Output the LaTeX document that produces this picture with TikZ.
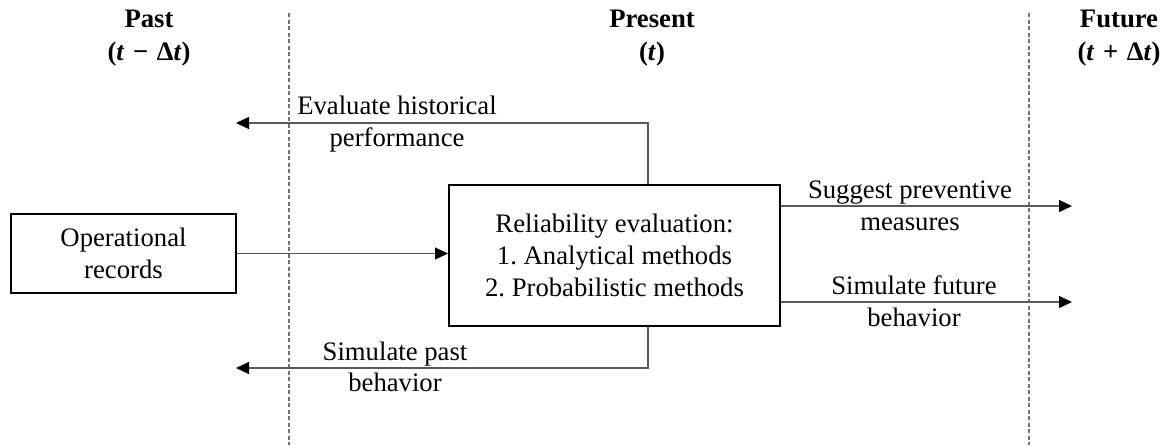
\documentclass[tikz,border=0pt]{standalone}
\usepackage{fontspec}
\setmainfont{Liberation Serif}
\usetikzlibrary{arrows.meta}
\frenchspacing

\begin{document}
\begin{tikzpicture}[x=1pt,y=-1pt,
  every node/.style={font=\fontsize{26.7}{31.7}\selectfont, inner sep=0pt, align=center},
  heading/.style={font=\fontsize{26.7}{33}\selectfont\bfseries},
  blockbox/.style={draw=black, line width=2pt},
  flow/.style={draw=black!65, line width=1.1pt,
    -{Triangle[length=13pt,width=12pt,color=black]}},
  era/.style={draw=black!55, line width=1.1pt, dash pattern=on 4pt off 2.5pt},
  lbl/.style={}]
  \useasboundingbox (0,0) rectangle (1175,445);

  % time boundaries
  \coordinate (d1t) at (289,13);
  \coordinate (d1b) at (289,445);
  \coordinate (d2t) at (1029,13);
  \coordinate (d2b) at (1029,445);
  \draw[era] (d1t) -- (d1b);
  \draw[era] (d2t) -- (d2b);

  % headings
  \node[heading] (hpast) at (149,38)
    {Past\\(\textit{t}\hspace{0.32em}−\hspace{0.32em}Δ\textit{t})};
  \node[heading] (hpres) at (652,38) {Present\\(\textit{t})};
  \node[heading] (hfut)  at (1119,38)
    {Future\\(\textit{t}\hspace{0.32em}+\hspace{0.32em}Δ\textit{t})};

  % blocks
  \node[blockbox, minimum width=225pt, minimum height=79pt] (ops) at (123.5,253.5)
    {Operational\\records};
  \node[blockbox, minimum width=331pt, minimum height=141pt] (rel) at (614.5,255.5)
    {Reliability evaluation:\\1. Analytical methods\\2. Probabilistic methods};

  % arrow end points
  \coordinate (pastA) at (236,123);
  \coordinate (pastB) at (236,368);
  \coordinate (futA) at (1072,206);
  \coordinate (futB) at (1072,302);

  % connectors
  \draw[flow] (ops.east) -- (ops.east -| rel.west);
  \draw[flow] ([xshift=33.5pt]rel.north) |- (pastA);
  \draw[flow] ([xshift=33.5pt]rel.south) |- (pastB);
  \draw[flow] (futA -| rel.east) -- (futA);
  \draw[flow] (futB -| rel.east) -- (futB);

  % connector labels
  \node[lbl] (lA) at (397,124) {Evaluate historical\\performance};
  \node[lbl] (lB) at (395,367) {Simulate past\\behavior};
  \node[lbl] (lC) at (910,206) {Suggest preventive\\measures};
  \node[lbl] (lD) at (914,301) {Simulate future\\behavior};
\end{tikzpicture}
\end{document}
